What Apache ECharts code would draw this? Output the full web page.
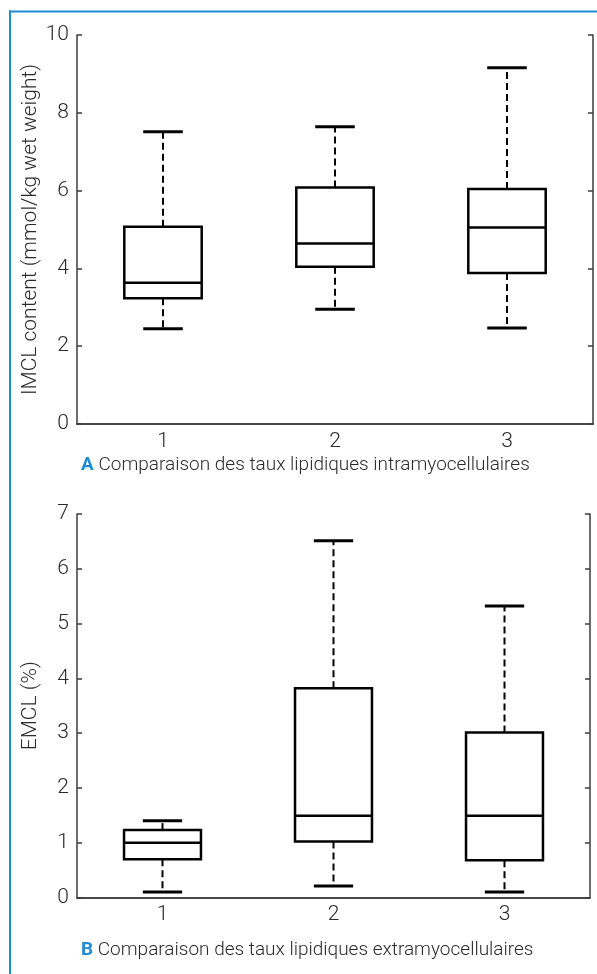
<!DOCTYPE html>
<html>
<head>
<meta charset="utf-8">
<script src="https://cdn.jsdelivr.net/npm/echarts@6/dist/echarts.min.js"></script>
<style>
html,body{margin:0;padding:0;background:#fff;}
#c{width:597px;height:974px;}
</style>
</head>
<body>
<div id="c"></div>
<script>
// ---- data ----
var categories = ['1', '2', '3'];
// [lower whisker, Q1, median, Q3, upper whisker]
var imclBoxes = [
  [2.45, 3.23, 3.63, 5.07, 7.51],
  [2.95, 4.04, 4.64, 6.08, 7.64],
  [2.47, 3.88, 5.05, 6.04, 9.16]
];
var emclBoxes = [
  [0.10, 0.70, 1.00, 1.23, 1.40],
  [0.21, 1.02, 1.49, 3.82, 6.51],
  [0.10, 0.68, 1.49, 3.01, 5.32]
];
var imclTicks = {min: 0, max: 10, interval: 2};
var emclTicks = {min: 0, max: 7, interval: 1};
var titleA = 'IMCL content (mmol/kg wet weight)';
var titleB = 'EMCL (%)';
var captionA = 'Comparaison des taux lipidiques intramyocellulaires';
var captionB = 'Comparaison des taux lipidiques extramyocellulaires';

// ---- styling ----
var FONT = 'Roboto';
var TXT = '#2a2a2a';
var AX = '#3c3c3c';
var BLUE = '#1f8bd3';

function toRows(boxes) {
  return boxes.map(function (b, i) { return [i].concat(b); });
}

function renderBox(params, api) {
  var i = api.value(0);
  var lo = api.coord([i, api.value(1)]);
  var q1 = api.coord([i, api.value(2)]);
  var md = api.coord([i, api.value(3)]);
  var q3 = api.coord([i, api.value(4)]);
  var hi = api.coord([i, api.value(5)]);
  var band = api.size([1, 0])[0];
  var hw = band * 0.225;
  var cw = band * 0.115;
  var x = lo[0];
  var solid = {stroke: '#000', lineWidth: 2.5, fill: null};
  var dash = {stroke: '#000', lineWidth: 2, lineDash: [7, 4], fill: null};
  return {
    type: 'group',
    children: [
      {type: 'line', shape: {x1: x, y1: q3[1], x2: x, y2: hi[1]}, style: dash},
      {type: 'line', shape: {x1: x, y1: q1[1], x2: x, y2: lo[1]}, style: dash},
      {type: 'line', shape: {x1: x - cw, y1: hi[1], x2: x + cw, y2: hi[1]}, style: {stroke: '#000', lineWidth: 3}},
      {type: 'line', shape: {x1: x - cw, y1: lo[1], x2: x + cw, y2: lo[1]}, style: {stroke: '#000', lineWidth: 3}},
      {type: 'rect', shape: {x: x - hw, y: q3[1], width: 2 * hw, height: q1[1] - q3[1]}, style: {stroke: '#000', lineWidth: 2.5, fill: '#fff'}},
      {type: 'line', shape: {x1: x - hw, y1: md[1], x2: x + hw, y2: md[1]}, style: solid}
    ]
  };
}

function xAxes(gi) {
  var base = {
    type: 'category', data: categories, gridIndex: gi, boundaryGap: true,
    axisLine: {lineStyle: {color: AX, width: 1.5}},
    axisTick: {inside: true, length: 5, alignWithLabel: true, lineStyle: {color: AX, width: 1.5}},
    splitLine: {show: false}
  };
  var bottom = Object.assign({}, base, {
    position: 'bottom',
    axisLabel: {fontFamily: FONT, fontWeight: 300, fontSize: 21, color: TXT, margin: 7}
  });
  var top = Object.assign({}, base, {position: 'top', axisLabel: {show: false}});
  return [bottom, top];
}

function yAxes(gi, t, name) {
  var base = {
    type: 'value', gridIndex: gi, min: t.min, max: t.max, interval: t.interval,
    axisLine: {show: true, lineStyle: {color: AX, width: 1.5}},
    axisTick: {show: true, inside: true, length: 5, lineStyle: {color: AX, width: 1.5}},
    splitLine: {show: false}
  };
  var left = Object.assign({}, base, {
    position: 'left',
    name: name, nameLocation: 'middle', nameGap: 36, nameMoveOverlap: false,
    nameTextStyle: {fontFamily: FONT, fontWeight: 300, fontSize: 21, color: TXT},
    axisLabel: {fontFamily: FONT, fontWeight: 300, fontSize: 21, color: TXT, margin: 8}
  });
  var right = Object.assign({}, base, {position: 'right', axisLabel: {show: false}});
  return [left, right];
}

var chart = echarts.init(document.getElementById('c'), null, {renderer: 'canvas'});
var xa = xAxes(0), xb = xAxes(1);
var ya = yAxes(0, imclTicks, titleA), yb = yAxes(1, emclTicks, titleB);

chart.setOption({
  animation: false,
  backgroundColor: '#fff',
  grid: [
    {left: 77, top: 35, width: 516, height: 389},
    {left: 77, top: 514, width: 513, height: 383.5}
  ],
  xAxis: [xa[0], xa[1], xb[0], xb[1]],
  yAxis: [ya[0], ya[1], yb[0], yb[1]],
  title: [
    {text: '{l|A} ' + captionA, left: 76, top: 451,
     textStyle: {fontFamily: FONT, fontWeight: 300, fontSize: 19, color: TXT,
       rich: {l: {fontFamily: FONT, fontWeight: 'bold', fontSize: 19, color: BLUE}}}},
    {text: '{l|B} ' + captionB, left: 76, top: 936,
     textStyle: {fontFamily: FONT, fontWeight: 300, fontSize: 19, color: TXT,
       rich: {l: {fontFamily: FONT, fontWeight: 'bold', fontSize: 19, color: BLUE}}}}
  ],
  graphic: [
    {type: 'line', shape: {x1: 9, y1: 11.5, x2: 597, y2: 11.5}, style: {stroke: BLUE, lineWidth: 2}},
    {type: 'line', shape: {x1: 10, y1: 10.5, x2: 10, y2: 974}, style: {stroke: BLUE, lineWidth: 2}}
  ],
  series: [
    {type: 'custom', xAxisIndex: 0, yAxisIndex: 0, renderItem: renderBox,
     encode: {x: 0, y: [1, 2, 3, 4, 5]}, data: toRows(imclBoxes), clip: false},
    {type: 'custom', xAxisIndex: 2, yAxisIndex: 2, renderItem: renderBox,
     encode: {x: 0, y: [1, 2, 3, 4, 5]}, data: toRows(emclBoxes), clip: false}
  ]
});
</script>
</body>
</html>
